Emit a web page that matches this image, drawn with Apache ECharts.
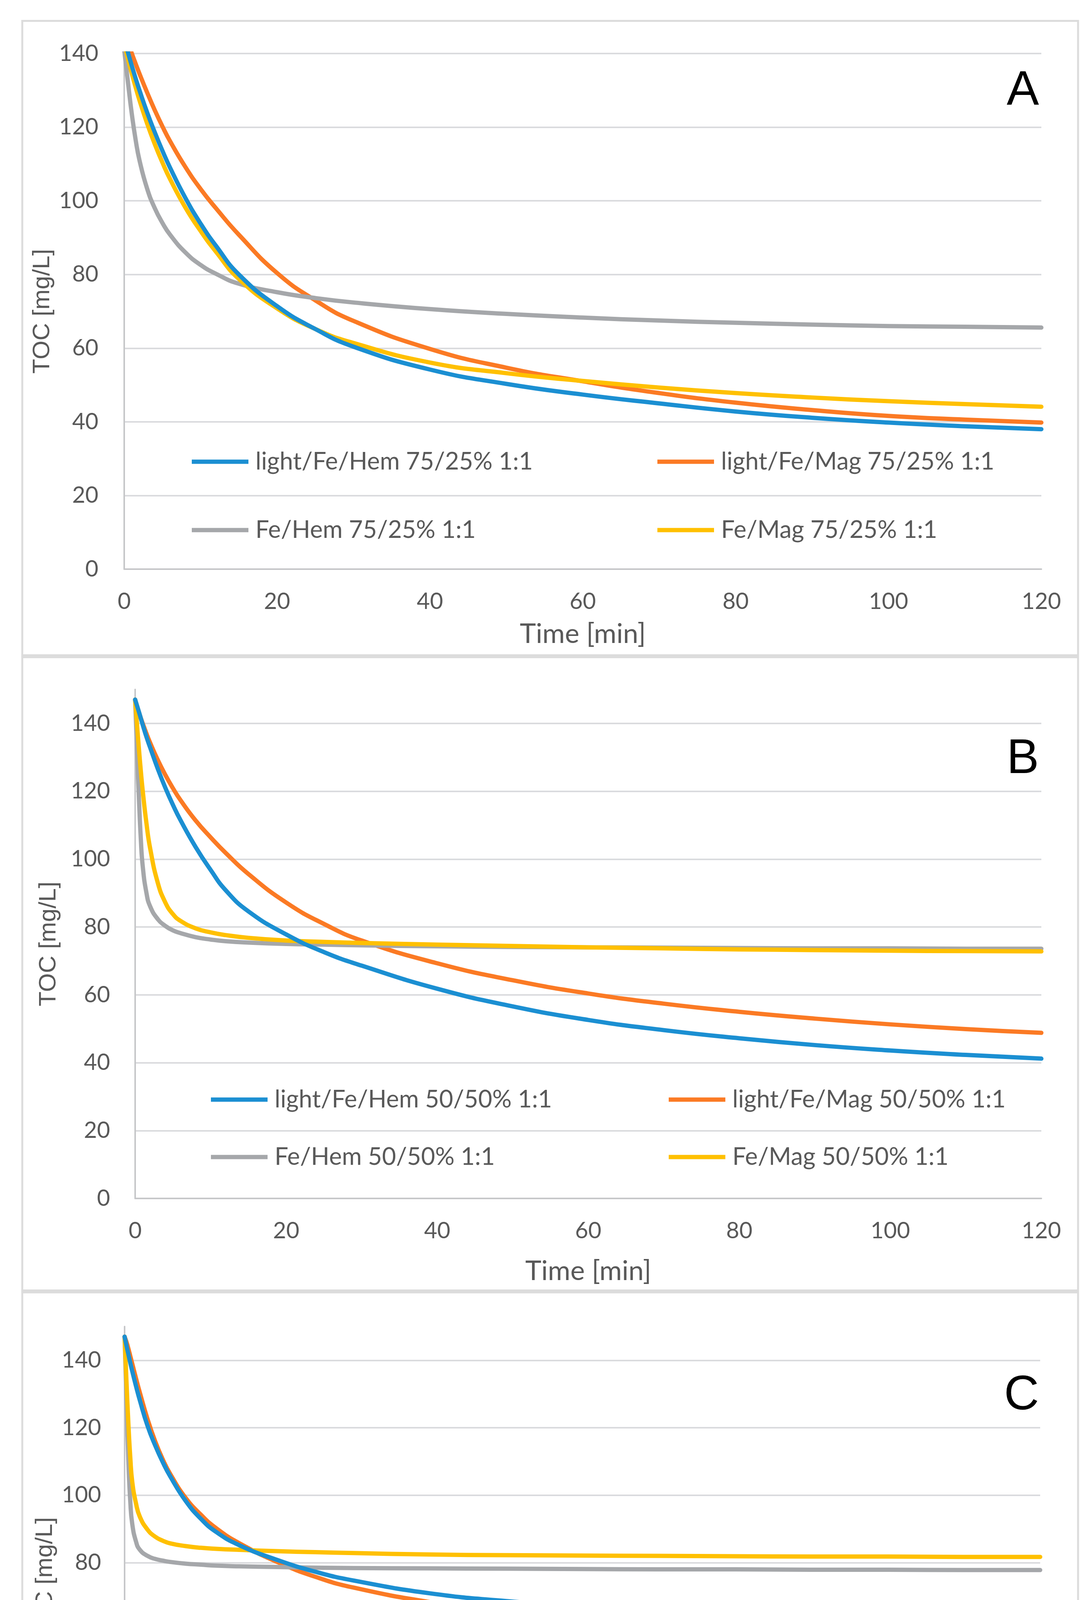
<!DOCTYPE html>
<html>
<head>
<meta charset="utf-8">
<script src="https://cdn.jsdelivr.net/npm/echarts@6/dist/echarts.min.js"></script>
<style>
html,body{margin:0;padding:0;background:#fff;overflow:hidden;}
#chart{width:2788px;height:4981px;}
</style>
</head>
<body>
<div id="chart"></div>
<script>
// ---------- DATA ----------
const xTicks = [0, 20, 40, 60, 80, 100, 120];
const yTicks = [0, 20, 40, 60, 80, 100, 120, 140];

// Panel A (75/25%)
const timeA = [0, 0.5, 1, 1.5, 2, 3, 4, 5, 6, 8, 10, 12, 15, 20, 25, 30, 40, 50, 60, 70, 80, 90, 100, 110, 120];
const A_lightHem = [144, 140.2, 136.6, 133.2, 130, 124, 118.6, 113.6, 109, 100.8, 93.8, 87.8, 80, 71.4, 65.2, 60.4, 54.2, 50.3, 47.4, 45, 42.8, 41.1, 39.8, 38.8, 38];
const A_lightMag = [146, 143, 140, 137.2, 134.5, 129.4, 124.6, 120.2, 116.2, 109.2, 103.2, 98, 90.8, 80.4, 73, 67.4, 59.8, 54.7, 51, 47.8, 45.2, 43.2, 41.6, 40.6, 39.8];
const A_hem = [141, 132, 123.5, 116.5, 111, 103.3, 98, 94, 90.8, 86, 82.6, 80.2, 77.5, 75.2, 73.6, 72.4, 70.6, 69.3, 68.3, 67.5, 66.9, 66.4, 66, 65.8, 65.6];
const A_mag = [143, 138.5, 134.5, 130.8, 127.3, 121, 115.4, 110.4, 105.9, 98.2, 91.8, 86.2, 78.8, 70.8, 65.2, 61.4, 56.1, 53.2, 51.1, 49.3, 47.8, 46.6, 45.6, 44.8, 44.1];

// Panel B (50/50%)
const timeB = [0, 0.25, 0.5, 0.75, 1, 1.5, 2, 3, 4, 5, 6, 8, 10, 12, 15, 20, 25, 30, 40, 50, 60, 70, 80, 90, 100, 110, 120];
const B_lightHem = [147, 145.2, 143.4, 141.5, 139.6, 136, 132.8, 126.6, 121, 116, 111.5, 103.6, 96.8, 90.8, 84.6, 77.8, 72.6, 68.6, 61.8, 56.6, 52.6, 49.6, 47.2, 45.2, 43.6, 42.3, 41.2];
const B_lightMag = [147, 145.1, 143.3, 141.6, 140, 137, 134.2, 129.2, 124.8, 120.9, 117.4, 111.4, 106.4, 101.8, 95.6, 87.2, 80.9, 76, 69.3, 64.3, 60.4, 57.4, 55, 53, 51.3, 49.9, 48.8];
const B_hem = [147, 132, 118, 106, 98, 90, 86, 82.3, 80.3, 79, 78.2, 77, 76.3, 75.8, 75.4, 75, 74.8, 74.6, 74.3, 74.1, 74, 73.9, 73.8, 73.7, 73.7, 73.6, 73.6];
const B_mag = [147, 139.5, 132.5, 126, 120.2, 110.5, 103, 93, 87.2, 83.8, 81.8, 79.6, 78.4, 77.6, 76.8, 76, 75.6, 75.3, 74.8, 74.4, 74, 73.7, 73.4, 73.2, 73, 72.9, 72.8];

// Panel C (25/75%)
const timeC = [0, 0.25, 0.5, 0.75, 1, 1.5, 2, 3, 4, 5, 6, 8, 10, 12, 15, 20, 25, 30, 40, 50, 60, 70, 80, 90, 100, 110, 120];
const C_lightHem = [147, 144.3, 141.7, 139.2, 136.8, 132.3, 128.1, 120.6, 114.8, 109.8, 105.5, 98.3, 93, 89.1, 85.2, 80.8, 77.3, 74.7, 70.9, 68.6, 67.1, 66, 65.1, 64.3, 63.7, 63.2, 62.8];
const C_lightMag = [147, 145.4, 143.4, 141.2, 139, 134.6, 130.4, 122.6, 116, 110.6, 106.2, 99.2, 94.2, 90.2, 85.8, 80.2, 75.8, 72.6, 68.3, 65.3, 63.1, 61.5, 60.3, 59.3, 58.5, 57.7, 57];
const C_hem = [147, 128, 110, 98, 91.5, 86.2, 83.8, 82, 81.1, 80.6, 80.2, 79.7, 79.4, 79.1, 78.9, 78.7, 78.5, 78.4, 78.3, 78.2, 78.1, 78, 78, 77.9, 77.9, 77.8, 77.8];
const C_mag = [147, 133.5, 121, 111, 104, 97.5, 93.6, 89.8, 87.7, 86.5, 85.7, 84.9, 84.4, 84.1, 83.8, 83.4, 83.1, 82.85, 82.4, 82.2, 82.1, 82, 81.9, 81.8, 81.8, 81.7, 81.7];

const panelLetters = ['A', 'B', 'C'];
const namesA = ['light/Fe/Hem 75/25% 1:1', 'light/Fe/Mag 75/25% 1:1', 'Fe/Hem 75/25% 1:1', 'Fe/Mag 75/25% 1:1'];
const namesB = ['light/Fe/Hem 50/50% 1:1', 'light/Fe/Mag 50/50% 1:1', 'Fe/Hem 50/50% 1:1', 'Fe/Mag 50/50% 1:1'];
const namesC = ['light/Fe/Hem 25/75% 1:1', 'light/Fe/Mag 25/75% 1:1', 'Fe/Hem 25/75% 1:1', 'Fe/Mag 25/75% 1:1'];
const xTitle = 'Time [min]';
const yTitle = 'TOC [mg/L]';
const yMaxes = [140, 150, 150];

// ---------- STYLE / LAYOUT ----------
const colors = ['#1b8fd2', '#fb7a24', '#a5a7aa', '#ffc000'];
const txt = '#595959';
const grids = [
  {left: 318, top: 137, width: 2348, height: 1320},
  {left: 346, top: 1765, width: 2320, height: 1303},
  {left: 319, top: 3396, width: 2344, height: 1295}
];
const yLabelMargin = [66, 64, 60];
const xNameGap = [131, 151, 155];
const yNameGap = [162, 190, 163];
const legendPos = [
  {cols: [491, 1683], rows: [1182, 1357]},
  {cols: [540, 1712], rows: [2815, 2962]},
  {cols: [536, 1555], rows: [4454, 4592]}
];
const boxes = [[57, 53.5, 2703, 1624], [57, 1682.5, 2703, 1621], [57, 3308.5, 2703, 1625]];
const letterY = [234, 1945, 3574];

const panels = [
  {time: timeA, vals: [A_lightHem, A_lightMag, A_hem, A_mag], names: namesA},
  {time: timeB, vals: [B_lightHem, B_lightMag, B_hem, B_mag], names: namesB},
  {time: timeC, vals: [C_lightHem, C_lightMag, C_hem, C_mag], names: namesC}
];

const option = {
  backgroundColor: '#ffffff',
  animation: false,
  grid: [], xAxis: [], yAxis: [], series: [], legend: [], graphic: []
};

panels.forEach((p, k) => {
  option.grid.push(Object.assign({containLabel: false, outerBoundsMode: 'none'}, grids[k]));
  option.xAxis.push({
    type: 'value', gridIndex: k, min: xTicks[0], max: xTicks[xTicks.length - 1], interval: xTicks[1] - xTicks[0],
    name: xTitle, nameLocation: 'middle', nameGap: xNameGap[k],
    nameTextStyle: {fontFamily: 'Lato', fontSize: 70, color: txt},
    axisLine: {show: true, lineStyle: {color: '#c6c7c9', width: 4}},
    axisTick: {show: false},
    splitLine: {show: false},
    axisLabel: {fontFamily: 'Lato', fontSize: 58, color: txt, margin: 54}
  });
  option.yAxis.push({
    type: 'value', gridIndex: k, min: yTicks[0], max: yMaxes[k], interval: yTicks[1] - yTicks[0],
    name: yTitle, nameLocation: 'middle', nameGap: yNameGap[k],
    nameTextStyle: {fontFamily: 'Liberation Sans', fontSize: 62, color: txt},
    axisLine: {show: true, lineStyle: {color: '#c6c7c9', width: 4}},
    axisTick: {show: false},
    splitLine: {show: true, showMinLine: false, showMaxLine: yMaxes[k] === yTicks[yTicks.length - 1],
      lineStyle: {color: '#dadbde', width: 4}},
    axisLabel: {fontFamily: 'Lato', fontSize: 58, color: txt, margin: yLabelMargin[k], showMaxLabel: yMaxes[k] === yTicks[yTicks.length - 1]}
  });
  p.vals.forEach((v, i) => {
    option.series.push({
      type: 'line', name: p.names[i], xAxisIndex: k, yAxisIndex: k,
      data: p.time.map((t, j) => [t, v[j]]),
      showSymbol: false, symbol: 'none', smooth: 0.5, clip: true,
      color: colors[i],
      lineStyle: {color: colors[i], width: 11, join: 'round', cap: 'round'},
      itemStyle: {color: colors[i]},
      z: 3 + (i === 0 ? 1 : 0)
    });
    const lp = legendPos[k];
    const col = i % 2, row = Math.floor(i / 2);
    option.legend.push({
      data: [p.names[i]], left: lp.cols[col], top: lp.rows[row] - 31,
      orient: 'horizontal', padding: 0, selectedMode: false,
      icon: 'rect', itemWidth: 145, itemHeight: 11,
      textStyle: {fontFamily: 'Lato', fontSize: 62, color: txt, lineHeight: 62, padding: [0, 0, 0, 13]}
    });
  });
  const b = boxes[k];
  option.graphic.push({
    type: 'rect', shape: {x: b[0], y: b[1], width: b[2], height: b[3]},
    style: {fill: 'none', stroke: '#dcdcdc', lineWidth: 5}, z: -10, silent: true
  });
  option.graphic.push({
    type: 'text', style: {text: panelLetters[k], x: 2660, y: letterY[k], textAlign: 'right', textVerticalAlign: 'middle',
      font: '124px "Liberation Sans", Arial, sans-serif', fill: '#000000'}, z: 10, silent: true
  });
});

const chart = echarts.init(document.getElementById('chart'), null, {renderer: 'canvas', width: 2788, height: 4981});
chart.setOption(option);
</script>
</body>
</html>
